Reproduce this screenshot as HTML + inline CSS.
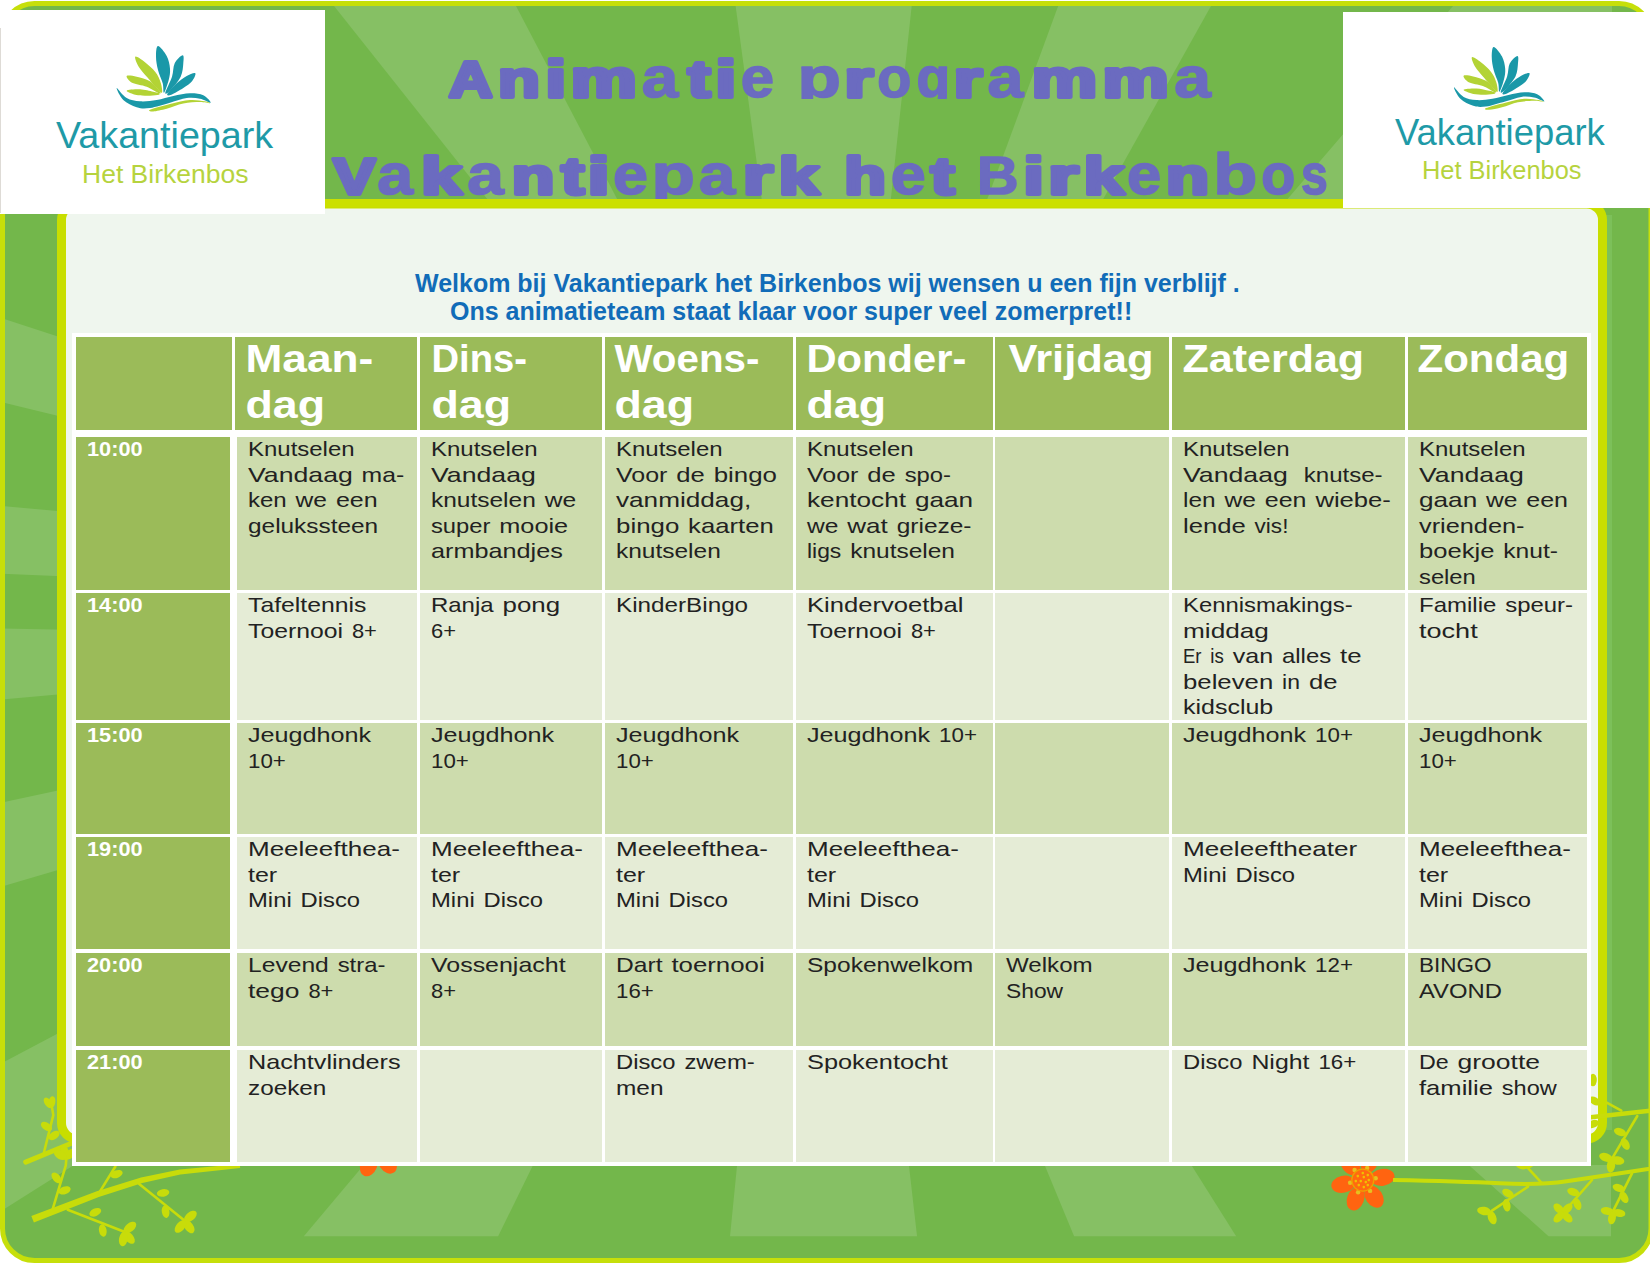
<!DOCTYPE html>
<html><head><meta charset="utf-8">
<style>
html,body{margin:0;padding:0;}
body{width:1650px;height:1275px;position:relative;overflow:hidden;background:#fff;font-family:"Liberation Sans",sans-serif;}
.abs{position:absolute;}
.c{position:absolute;box-sizing:border-box;}
.hd{background:#9bbb59;}
.tm{background:#9bbb59;}
.dk{background:#cddcad;}
.lt{background:#e5ecd6;}
.ht{position:absolute;color:#fff;font-weight:bold;font-size:38.4px;line-height:46px;letter-spacing:1.9px;white-space:nowrap;}
.tt{position:absolute;color:#fff;font-weight:bold;font-size:20.5px;line-height:25.5px;letter-spacing:0.8px;white-space:nowrap;}
.bt{position:absolute;color:#141414;font-size:20.3px;line-height:25.5px;letter-spacing:1.9px;word-spacing:1px;white-space:nowrap;}
.wl{position:absolute;color:#116cb8;font-weight:bold;font-size:25px;line-height:28px;white-space:nowrap;}
</style></head><body>

<svg class="abs" style="left:0;top:0" width="1650" height="1275" viewBox="0 0 1650 1275">
<defs>
<clipPath id="fc"><rect x="2.5" y="3.5" width="1648.5" height="1257" rx="32"/></clipPath>
<clipPath id="rc"><rect x="0" y="0" width="1612" height="1236.5"/></clipPath>
</defs>
<rect x="2.5" y="3.5" width="1648.5" height="1257" rx="32" fill="#73b74b"/>
<g clip-path="url(#fc)"><g clip-path="url(#rc)" fill="#86c064"><polygon points="313.4,-20.0 502.4,-20.0 621.3,207.0 493.6,207.0"/><polygon points="732.1,-20.0 914.5,-20.0 890.0,207.0 762.7,207.0"/><polygon points="1067.7,-20.0 1225.5,-20.0 1098.8,207.0 984.4,207.0"/><polygon points="1475.3,-20.0 1700.0,-20.0 1700.0,207.0 1280.7,207.0"/><polygon points="363.7,1165.0 533.1,1165.0 498.0,1236.5 303.6,1236.5"/><polygon points="737.1,1165.0 908.9,1165.0 917.1,1236.5 730.0,1236.5"/><polygon points="1044.6,1165.0 1191.3,1165.0 1236.3,1236.5 1074.2,1236.5"/><polygon points="1468.7,1165.0 1611.0,1165.0 1611.0,1236.5 1548.8,1236.5"/><polygon points="-10.0,314.3 80.0,343.7 80.0,421.2 -10.0,399.2"/><polygon points="-10.0,504.9 80.0,513.1 80.0,576.9 -10.0,573.4"/><polygon points="-10.0,628.4 80.0,630.0 80.0,692.4 -10.0,700.6"/><polygon points="-10.0,805.2 80.0,785.8 80.0,863.6 -10.0,890.1"/><polygon points="-10.0,1069.3 80.0,1021.7 80.0,1161.2 -10.0,1218.0"/></g></g>
<rect x="2.5" y="3.5" width="1648.5" height="1257" rx="32" fill="none" stroke="#c6df0a" stroke-width="5"/>
<rect x="1606" y="215" width="6" height="915" fill="#7cc05a"/>
<rect x="61.5" y="204" width="1541" height="935" rx="16" fill="#eff6ee" stroke="#c8de00" stroke-width="9"/>
<g><ellipse cx="395.8" cy="1143.2" rx="12" ry="8.5" fill="#ff6410" transform="rotate(-8 395.8 1143.2)"/><circle cx="388.9" cy="1144.2" r="2.2" fill="#e6c020"/><ellipse cx="387.2" cy="1162.6" rx="12" ry="8.5" fill="#ff6410" transform="rotate(56 387.2 1162.6)"/><circle cx="383.3" cy="1156.8" r="2.2" fill="#e6c020"/><ellipse cx="368.8" cy="1164.7" rx="12" ry="8.5" fill="#ff6410" transform="rotate(111 368.8 1164.7)"/><circle cx="371.3" cy="1158.1" r="2.2" fill="#e6c020"/><ellipse cx="356.4" cy="1150.2" rx="12" ry="8.5" fill="#ff6410" transform="rotate(168 356.4 1150.2)"/><circle cx="363.3" cy="1148.7" r="2.2" fill="#e6c020"/><ellipse cx="363.4" cy="1130.5" rx="12" ry="8.5" fill="#ff6410" transform="rotate(231 363.4 1130.5)"/><circle cx="367.8" cy="1135.9" r="2.2" fill="#e6c020"/><ellipse cx="382.8" cy="1127.2" rx="12" ry="8.5" fill="#ff6410" transform="rotate(290 382.8 1127.2)"/><circle cx="380.4" cy="1133.8" r="2.2" fill="#e6c020"/><circle cx="376" cy="1146" r="11" fill="#ff6a10" stroke="#f0a000" stroke-width="1.3"/><circle cx="376" cy="1139" r="1.3" fill="#f0c000"/><circle cx="381" cy="1141" r="1.3" fill="#f0c000"/><circle cx="371" cy="1142" r="1.3" fill="#f0c000"/><circle cx="377" cy="1143" r="1.3" fill="#f0c000"/><circle cx="382" cy="1146" r="1.3" fill="#f0c000"/><circle cx="369" cy="1147" r="1.3" fill="#f0c000"/><circle cx="374" cy="1147" r="1.3" fill="#f0c000"/><circle cx="379" cy="1148" r="1.3" fill="#f0c000"/><circle cx="381" cy="1151" r="1.3" fill="#f0c000"/><circle cx="372" cy="1151" r="1.3" fill="#f0c000"/><circle cx="377" cy="1153" r="1.3" fill="#f0c000"/></g><g><ellipse cx="1382.6" cy="1177.3" rx="12" ry="8.5" fill="#ff6410" transform="rotate(-8 1382.6 1177.3)"/><circle cx="1375.7" cy="1178.3" r="2.2" fill="#e6c020"/><ellipse cx="1374.0" cy="1196.7" rx="12" ry="8.5" fill="#ff6410" transform="rotate(56 1374.0 1196.7)"/><circle cx="1370.1" cy="1190.9" r="2.2" fill="#e6c020"/><ellipse cx="1355.6" cy="1198.8" rx="12" ry="8.5" fill="#ff6410" transform="rotate(111 1355.6 1198.8)"/><circle cx="1358.1" cy="1192.2" r="2.2" fill="#e6c020"/><ellipse cx="1343.2" cy="1184.3" rx="12" ry="8.5" fill="#ff6410" transform="rotate(168 1343.2 1184.3)"/><circle cx="1350.1" cy="1182.8" r="2.2" fill="#e6c020"/><ellipse cx="1350.2" cy="1164.6" rx="12" ry="8.5" fill="#ff6410" transform="rotate(231 1350.2 1164.6)"/><circle cx="1354.6" cy="1170.0" r="2.2" fill="#e6c020"/><ellipse cx="1369.6" cy="1161.3" rx="12" ry="8.5" fill="#ff6410" transform="rotate(290 1369.6 1161.3)"/><circle cx="1367.2" cy="1167.9" r="2.2" fill="#e6c020"/><circle cx="1362.8" cy="1180.1" r="11" fill="#ff6a10" stroke="#f0a000" stroke-width="1.3"/><circle cx="1362.8" cy="1173.1" r="1.3" fill="#f0c000"/><circle cx="1367.8" cy="1175.1" r="1.3" fill="#f0c000"/><circle cx="1357.8" cy="1176.1" r="1.3" fill="#f0c000"/><circle cx="1363.8" cy="1177.1" r="1.3" fill="#f0c000"/><circle cx="1368.8" cy="1180.1" r="1.3" fill="#f0c000"/><circle cx="1355.8" cy="1181.1" r="1.3" fill="#f0c000"/><circle cx="1360.8" cy="1181.1" r="1.3" fill="#f0c000"/><circle cx="1365.8" cy="1182.1" r="1.3" fill="#f0c000"/><circle cx="1367.8" cy="1185.1" r="1.3" fill="#f0c000"/><circle cx="1358.8" cy="1185.1" r="1.3" fill="#f0c000"/><circle cx="1363.8" cy="1187.1" r="1.3" fill="#f0c000"/></g><g fill="#c8dc0a"><polygon points="33.9,1222.5 98.8,1197.0 142.4,1183.0 180.3,1174.4 240.2,1168.0 239.8,1164.0 179.7,1169.6 141.0,1177.6 96.8,1191.2 31.3,1215.9"/><path d="M25.7,1162.1 L71.5,1143.3" fill="none" stroke="#c8dc0a" stroke-width="5" stroke-linecap="round" stroke-linejoin="round"/><path d="M43.9,1152.7 L53.3,1115.1 L51.4,1103.8" fill="none" stroke="#c8dc0a" stroke-width="2.6" stroke-linecap="round" stroke-linejoin="round"/><ellipse cx="48.1" cy="1102.9" rx="6" ry="3.4" transform="rotate(-125 48.1 1102.9)"/><ellipse cx="51.9" cy="1102.1" rx="6" ry="3.4" transform="rotate(-80 51.9 1102.1)"/><ellipse cx="46.5" cy="1126.5" rx="6.3" ry="3.8" transform="rotate(-145 46.5 1126.5)"/><ellipse cx="54.0" cy="1135.5" rx="6.3" ry="3.8" transform="rotate(-35 54.0 1135.5)"/><path d="M52.7,1209.2 L65.8,1165.3 L67.0,1150.0" fill="none" stroke="#c8dc0a" stroke-width="2.6" stroke-linecap="round" stroke-linejoin="round"/><ellipse cx="64.5" cy="1152.1" rx="7" ry="4.2" transform="rotate(-100 64.5 1152.1)"/><ellipse cx="70.1" cy="1154.1" rx="7" ry="4.2" transform="rotate(-40 70.1 1154.1)"/><ellipse cx="60.3" cy="1155.0" rx="7" ry="4.2" transform="rotate(-150 60.3 1155.0)"/><ellipse cx="56.4" cy="1177.8" rx="6.3" ry="3.8" transform="rotate(-130 56.4 1177.8)"/><ellipse cx="64.6" cy="1190.4" rx="6.3" ry="3.8" transform="rotate(-20 64.6 1190.4)"/><path d="M99.1,1192.9 L115.4,1166.5" fill="none" stroke="#c8dc0a" stroke-width="2.6" stroke-linecap="round" stroke-linejoin="round"/><ellipse cx="116.6" cy="1174.1" rx="6.3" ry="3.8" transform="rotate(-20 116.6 1174.1)"/><path d="M67.7,1209.8 L124.2,1231.8" fill="none" stroke="#c8dc0a" stroke-width="2.6" stroke-linecap="round" stroke-linejoin="round"/><ellipse cx="95.3" cy="1212.3" rx="6.3" ry="3.8" transform="rotate(-25 95.3 1212.3)"/><ellipse cx="102.8" cy="1230.5" rx="6.3" ry="3.8" transform="rotate(80 102.8 1230.5)"/><ellipse cx="129.9" cy="1227.5" rx="7.5" ry="4.3" transform="rotate(-40 129.9 1227.5)"/><ellipse cx="129.0" cy="1237.4" rx="7.5" ry="4.3" transform="rotate(50 129.0 1237.4)"/><ellipse cx="123.3" cy="1238.9" rx="7.5" ry="4.3" transform="rotate(100 123.3 1238.9)"/><path d="M139.2,1184.1 L184.4,1220.5" fill="none" stroke="#c8dc0a" stroke-width="2.6" stroke-linecap="round" stroke-linejoin="round"/><ellipse cx="163.1" cy="1192.9" rx="6.3" ry="3.8" transform="rotate(-10 163.1 1192.9)"/><ellipse cx="165.6" cy="1211.7" rx="6.3" ry="3.8" transform="rotate(80 165.6 1211.7)"/><ellipse cx="190.4" cy="1216.5" rx="7.5" ry="4.3" transform="rotate(-40 190.4 1216.5)"/><ellipse cx="189.0" cy="1226.7" rx="7.5" ry="4.3" transform="rotate(55 189.0 1226.7)"/><ellipse cx="180.5" cy="1226.4" rx="7.5" ry="4.3" transform="rotate(130 180.5 1226.4)"/><path d="M1590.7,1117.3 L1650.0,1110.7" fill="none" stroke="#c8dc0a" stroke-width="4.5" stroke-linecap="round" stroke-linejoin="round"/><path d="M1621.3,1110.7 L1606.7,1102.7" fill="none" stroke="#c8dc0a" stroke-width="2.6" stroke-linecap="round" stroke-linejoin="round"/><path d="M1637.3,1116.0 L1612.0,1158.7" fill="none" stroke="#c8dc0a" stroke-width="2.6" stroke-linecap="round" stroke-linejoin="round"/><ellipse cx="1605.9" cy="1157.4" rx="7" ry="4.2" transform="rotate(-160 1605.9 1157.4)"/><ellipse cx="1617.4" cy="1160.5" rx="7" ry="4.2" transform="rotate(10 1617.4 1160.5)"/><ellipse cx="1611.0" cy="1165.5" rx="7" ry="4.2" transform="rotate(95 1611.0 1165.5)"/><ellipse cx="1620.0" cy="1132.0" rx="6.3" ry="3.8" transform="rotate(-160 1620.0 1132.0)"/><ellipse cx="1625.3" cy="1144.0" rx="6.3" ry="3.8" transform="rotate(60 1625.3 1144.0)"/><path d="M1393.0,1180.0 Q1460.0,1181.3 1500.0,1183.3 Q1540.0,1185.3 1566.7,1181.3 Q1593.3,1177.3 1621.7,1173.0 L1650.0,1168.7" fill="none" stroke="#c8dc0a" stroke-width="4" stroke-linecap="butt"/><path d="M1541.3,1182.7 L1526.7,1166.7" fill="none" stroke="#c8dc0a" stroke-width="2.6" stroke-linecap="round" stroke-linejoin="round"/><ellipse cx="1521.3" cy="1165.3" rx="6.3" ry="3.8" transform="rotate(-160 1521.3 1165.3)"/><ellipse cx="1529.8" cy="1163.8" rx="6.3" ry="3.8" transform="rotate(-40 1529.8 1163.8)"/><path d="M1528.0,1186.7 L1492.0,1210.7" fill="none" stroke="#c8dc0a" stroke-width="2.6" stroke-linecap="round" stroke-linejoin="round"/><ellipse cx="1508.0" cy="1193.3" rx="6.3" ry="3.8" transform="rotate(-150 1508.0 1193.3)"/><ellipse cx="1506.7" cy="1205.3" rx="6.3" ry="3.8" transform="rotate(80 1506.7 1205.3)"/><ellipse cx="1484.1" cy="1211.0" rx="7" ry="4.2" transform="rotate(-170 1484.1 1211.0)"/><ellipse cx="1492.1" cy="1217.6" rx="7" ry="4.2" transform="rotate(70 1492.1 1217.6)"/><path d="M1592.0,1180.0 L1562.7,1213.3" fill="none" stroke="#c8dc0a" stroke-width="2.6" stroke-linecap="round" stroke-linejoin="round"/><ellipse cx="1573.3" cy="1192.0" rx="6.3" ry="3.8" transform="rotate(-160 1573.3 1192.0)"/><ellipse cx="1577.3" cy="1204.0" rx="6.3" ry="3.8" transform="rotate(70 1577.3 1204.0)"/><ellipse cx="1558.8" cy="1208.8" rx="6.5" ry="3.9" transform="rotate(-135 1558.8 1208.8)"/><ellipse cx="1567.2" cy="1208.8" rx="6.5" ry="3.9" transform="rotate(-45 1567.2 1208.8)"/><ellipse cx="1567.2" cy="1217.2" rx="6.5" ry="3.9" transform="rotate(45 1567.2 1217.2)"/><ellipse cx="1558.8" cy="1217.2" rx="6.5" ry="3.9" transform="rotate(135 1558.8 1217.2)"/><path d="M1632.0,1173.3 L1613.3,1210.7" fill="none" stroke="#c8dc0a" stroke-width="2.6" stroke-linecap="round" stroke-linejoin="round"/><ellipse cx="1618.7" cy="1188.0" rx="6.3" ry="3.8" transform="rotate(-160 1618.7 1188.0)"/><ellipse cx="1624.0" cy="1197.3" rx="6.3" ry="3.8" transform="rotate(60 1624.0 1197.3)"/><ellipse cx="1607.1" cy="1211.0" rx="6.5" ry="3.9" transform="rotate(-170 1607.1 1211.0)"/><ellipse cx="1618.9" cy="1213.0" rx="6.5" ry="3.9" transform="rotate(10 1618.9 1213.0)"/><ellipse cx="1612.0" cy="1217.9" rx="6.5" ry="3.9" transform="rotate(100 1612.0 1217.9)"/><ellipse cx="1593.0" cy="1080.0" rx="6.3" ry="3.8" transform="rotate(-90 1593.0 1080.0)"/><ellipse cx="1594.7" cy="1101.0" rx="6.3" ry="3.8" transform="rotate(-150 1594.7 1101.0)"/><ellipse cx="1593.0" cy="1124.0" rx="6.3" ry="3.8" transform="rotate(160 1593.0 1124.0)"/></g>
</svg>

<div class="abs" style="left:325px;top:199px;width:1020px;height:8px;background:#cbe000"></div>
<div class="abs" style="left:0;top:10px;width:325px;height:204px;background:#fff"></div>
<div class="abs" style="left:1343px;top:12px;width:307px;height:196px;background:#fff"></div>
<div class="abs" style="left:0;top:28px;width:1px;height:185px;background:#dedbd6"></div>
<svg class="abs" style="left:0;top:0" width="1650" height="220" viewBox="0 0 1650 220">
<defs><g id="lotus"><path fill="#1a98a8" d="M48.0,6.0 C46.2,6.1 46.0,12.7 46.0,16.7 C46.0,20.7 46.9,25.6 48.0,30.0 C49.1,34.4 51.7,39.6 52.7,43.3 C53.7,47.1 53.0,53.2 54.0,52.7 C55.0,52.1 57.7,44.0 58.7,40.0 C59.7,36.0 60.3,32.7 60.0,28.7 C59.7,24.7 58.7,19.8 56.7,16.0 C54.7,12.2 49.8,5.9 48.0,6.0Z"/><path fill="#1a98a8" d="M72.7,15.3 C71.2,15.3 66.4,19.8 64.7,23.3 C62.9,26.9 63.6,31.8 62.0,36.7 C60.4,41.6 55.7,50.3 55.3,52.7 C55.0,55.0 57.4,53.3 60.0,50.7 C62.6,48.0 68.4,41.2 70.7,36.7 C72.9,32.1 73.0,26.9 73.3,23.3 C73.7,19.8 74.1,15.3 72.7,15.3Z"/><path fill="#1a98a8" d="M85.3,33.3 C84.4,32.4 79.8,34.3 76.7,36.0 C73.6,37.7 69.9,40.3 66.7,43.3 C63.4,46.3 58.2,52.1 57.3,54.0 C56.4,55.9 58.7,55.7 61.3,54.7 C64.0,53.7 69.9,50.2 73.3,48.0 C76.8,45.8 80.0,43.8 82.0,41.3 C84.0,38.9 86.2,34.2 85.3,33.3Z"/><path fill="#b3d335" d="M25.3,16.7 C24.3,17.4 26.7,23.2 28.7,26.7 C30.7,30.1 34.3,33.8 37.3,37.3 C40.3,40.9 44.2,45.4 46.7,48.0 C49.1,50.6 51.3,53.6 52.0,52.7 C52.7,51.8 51.8,46.1 50.7,42.7 C49.6,39.2 48.0,35.4 45.3,32.0 C42.7,28.6 38.0,24.6 34.7,22.0 C31.3,19.4 26.3,15.9 25.3,16.7Z"/><path fill="#b3d335" d="M16.7,36.0 C15.9,37.0 18.7,40.9 22.0,42.7 C25.3,44.4 32.1,44.9 36.7,46.7 C41.2,48.4 47.2,52.7 49.3,53.3 C51.4,54.0 50.9,52.7 49.3,50.7 C47.8,48.7 43.8,43.7 40.0,41.3 C36.2,39.0 30.6,37.6 26.7,36.7 C22.8,35.8 17.4,35.0 16.7,36.0Z"/><path fill="#b3d335" d="M16.7,50.7 C16.1,51.6 22.8,54.2 26.7,55.0 C30.6,55.8 36.3,55.7 40.0,55.7 C43.7,55.6 47.6,55.1 49.0,54.7 C50.4,54.2 49.6,53.5 48.7,53.0 C47.7,52.5 46.4,52.3 43.3,51.7 C40.2,51.1 34.4,49.5 30.0,49.3 C25.6,49.2 17.2,49.7 16.7,50.7Z"/><path fill="#1a98a8" d="M6.7,48.0 C7.2,47.7 12.8,55.8 16.7,58.0 C20.6,60.2 25.0,61.0 30.0,61.3 C35.0,61.7 41.1,60.9 46.7,60.0 C52.2,59.1 57.8,57.1 63.3,56.0 C68.9,54.9 75.0,53.4 80.0,53.3 C85.0,53.2 89.9,53.8 93.3,55.3 C96.8,56.9 101.2,62.1 100.7,62.7 C100.1,63.2 94.0,59.4 90.0,58.7 C86.0,57.9 81.7,57.3 76.7,58.0 C71.7,58.7 66.1,61.0 60.0,62.7 C53.9,64.3 45.6,67.2 40.0,68.0 C34.4,68.8 31.1,68.7 26.7,67.3 C22.2,66.0 16.7,63.2 13.3,60.0 C10.0,56.8 6.1,48.3 6.7,48.0Z"/><path fill="#b3d335" d="M40.0,69.7 C42.8,68.4 53.3,65.6 60.0,64.0 C66.7,62.4 74.2,60.4 80.0,60.0 C85.8,59.6 91.3,60.8 94.7,61.3 C98.0,61.9 100.8,63.2 100.0,63.3 C99.2,63.5 94.4,62.1 90.0,62.1 C85.6,62.2 78.9,62.4 73.3,63.5 C67.8,64.6 61.7,67.5 56.7,68.8 C51.7,70.1 46.1,71.3 43.3,71.5 C40.6,71.6 37.2,70.9 40.0,69.7Z"/></g></defs>
<use href="#lotus" x="110" y="40"/>
<g transform="translate(1447.6,41.2) scale(0.96)"><use href="#lotus"/></g>
<g font-family="Liberation Sans">
<text x="56" y="148" font-size="37.7" fill="#1e9aa7">Vakantiepark</text>
<text x="82" y="183" font-size="26.5" fill="#b6d33e">Het Birkenbos</text>
<text x="1395" y="145" font-size="36.4" fill="#1e9aa7">Vakantiepark</text>
<text x="1422" y="179" font-size="25.4" fill="#b6d33e">Het Birkenbos</text>
</g></svg>
<svg class="abs" style="left:0;top:0" width="1650" height="210">
<defs><clipPath id="tc1"><rect x="300" y="40" width="1000" height="59"/></clipPath><clipPath id="tc2"><rect x="300" y="140" width="1050" height="59"/></clipPath></defs>
<g fill="#6b6bc0" stroke="#6b6bc0" stroke-width="3" stroke-linejoin="round" font-family="Liberation Sans" font-weight="bold"><g clip-path="url(#tc1)"><text transform="translate(448.79,97) scale(1.205,1)" font-size="50.3" stroke-width="4.0">A</text><text transform="translate(498.08,97) scale(1.318,1)" font-size="52.0" stroke-width="4.0">n</text><text transform="translate(545.41,97) scale(1.429,1)" font-size="52.0" stroke-width="4.0">i</text><text transform="translate(570.81,97) scale(1.427,1)" font-size="52.0" stroke-width="4.0">m</text><text transform="translate(641.78,97) scale(1.159,1)" font-size="56.6" stroke-width="1.6">a</text><text transform="translate(687.67,97) scale(1.314,1)" font-size="52.0" stroke-width="4.0">t</text><text transform="translate(715.51,97) scale(1.429,1)" font-size="52.0" stroke-width="4.0">i</text><text transform="translate(740.66,97) scale(1.056,1)" font-size="56.6" stroke-width="1.6">e</text><text transform="translate(797.42,97) scale(1.254,1)" font-size="56.6" stroke-width="1.6">p</text><text transform="translate(844.44,97) scale(1.416,1)" font-size="52.0" stroke-width="4.0">r</text><text transform="translate(877.32,97) scale(0.984,1)" font-size="56.6" stroke-width="1.6">o</text><text transform="translate(916.54,97) scale(0.972,1)" font-size="56.6" stroke-width="1.6">g</text><text transform="translate(953.86,97) scale(1.410,1)" font-size="52.0" stroke-width="4.0">r</text><text transform="translate(987.61,97) scale(1.139,1)" font-size="56.6" stroke-width="1.6">a</text><text transform="translate(1031.85,97) scale(1.414,1)" font-size="52.0" stroke-width="4.0">m</text><text transform="translate(1102.39,97) scale(1.432,1)" font-size="52.0" stroke-width="4.0">m</text><text transform="translate(1174.17,97) scale(1.162,1)" font-size="56.6" stroke-width="1.6">a</text></g><g clip-path="url(#tc2)"><text transform="translate(333.27,194) scale(1.256,1)" font-size="50.3" stroke-width="4.0">V</text><text transform="translate(377.21,194) scale(1.139,1)" font-size="56.6" stroke-width="1.6">a</text><text transform="translate(421.23,194) scale(1.396,1)" font-size="52.0" stroke-width="4.0">k</text><text transform="translate(467.17,194) scale(1.162,1)" font-size="56.6" stroke-width="1.6">a</text><text transform="translate(511.70,194) scale(1.341,1)" font-size="52.0" stroke-width="4.0">n</text><text transform="translate(561.16,194) scale(1.327,1)" font-size="52.0" stroke-width="4.0">t</text><text transform="translate(587.85,194) scale(1.499,1)" font-size="52.0" stroke-width="4.0">i</text><text transform="translate(613.04,194) scale(1.111,1)" font-size="56.6" stroke-width="1.6">e</text><text transform="translate(651.42,194) scale(1.254,1)" font-size="56.6" stroke-width="1.6">p</text><text transform="translate(698.87,194) scale(1.162,1)" font-size="56.6" stroke-width="1.6">a</text><text transform="translate(742.93,194) scale(1.479,1)" font-size="52.0" stroke-width="4.0">r</text><text transform="translate(778.64,194) scale(1.392,1)" font-size="52.0" stroke-width="4.0">k</text><text transform="translate(844.23,194) scale(1.312,1)" font-size="52.0" stroke-width="4.0">h</text><text transform="translate(890.64,194) scale(1.111,1)" font-size="56.6" stroke-width="1.6">e</text><text transform="translate(930.83,194) scale(1.370,1)" font-size="52.0" stroke-width="4.0">t</text><text transform="translate(976.95,194) scale(1.073,1)" font-size="53.6" stroke-width="1.6">B</text><text transform="translate(1023.61,194) scale(1.401,1)" font-size="52.0" stroke-width="4.0">i</text><text transform="translate(1048.17,194) scale(1.497,1)" font-size="52.0" stroke-width="4.0">r</text><text transform="translate(1083.64,194) scale(1.392,1)" font-size="52.0" stroke-width="4.0">k</text><text transform="translate(1127.10,194) scale(1.086,1)" font-size="56.6" stroke-width="1.6">e</text><text transform="translate(1166.06,194) scale(1.353,1)" font-size="52.0" stroke-width="4.0">n</text><text transform="translate(1213.34,194) scale(1.275,1)" font-size="56.6" stroke-width="1.6">b</text><text transform="translate(1261.32,194) scale(0.984,1)" font-size="56.6" stroke-width="1.6">o</text><text transform="translate(1301.11,194) scale(0.850,1)" font-size="56.6" stroke-width="1.6">s</text></g></g></svg>
<div class="wl" style="left:415px;top:269px">Welkom bij Vakantiepark het Birkenbos wij wensen u een fijn verblijf .</div>
<div class="wl" style="left:450px;top:297px">Ons animatieteam staat klaar voor super veel zomerpret!!</div>
<div class="abs" style="left:72px;top:333px;width:1519px;height:833px;background:#fff"></div>
<div class="c hd" style="left:76px;top:337px;width:156px;height:93px"></div>
<div class="c hd" style="left:235px;top:337px;width:182px;height:93px"></div>
<div class="c hd" style="left:420px;top:337px;width:182px;height:93px"></div>
<div class="c hd" style="left:605px;top:337px;width:188px;height:93px"></div>
<div class="c hd" style="left:796px;top:337px;width:197px;height:93px"></div>
<div class="c hd" style="left:995px;top:337px;width:174px;height:93px"></div>
<div class="c hd" style="left:1172px;top:337px;width:233px;height:93px"></div>
<div class="c hd" style="left:1408px;top:337px;width:179px;height:93px"></div>
<div class="c tm" style="left:76px;top:437px;width:154px;height:153px"></div>
<div class="c dk" style="left:237px;top:437px;width:180px;height:153px"></div>
<div class="c dk" style="left:420px;top:437px;width:182px;height:153px"></div>
<div class="c dk" style="left:605px;top:437px;width:188px;height:153px"></div>
<div class="c dk" style="left:796px;top:437px;width:197px;height:153px"></div>
<div class="c dk" style="left:995px;top:437px;width:174px;height:153px"></div>
<div class="c dk" style="left:1172px;top:437px;width:233px;height:153px"></div>
<div class="c dk" style="left:1408px;top:437px;width:179px;height:153px"></div>
<div class="c tm" style="left:76px;top:593px;width:154px;height:127px"></div>
<div class="c lt" style="left:237px;top:593px;width:180px;height:127px"></div>
<div class="c lt" style="left:420px;top:593px;width:182px;height:127px"></div>
<div class="c lt" style="left:605px;top:593px;width:188px;height:127px"></div>
<div class="c lt" style="left:796px;top:593px;width:197px;height:127px"></div>
<div class="c lt" style="left:995px;top:593px;width:174px;height:127px"></div>
<div class="c lt" style="left:1172px;top:593px;width:233px;height:127px"></div>
<div class="c lt" style="left:1408px;top:593px;width:179px;height:127px"></div>
<div class="c tm" style="left:76px;top:723px;width:154px;height:111px"></div>
<div class="c dk" style="left:237px;top:723px;width:180px;height:111px"></div>
<div class="c dk" style="left:420px;top:723px;width:182px;height:111px"></div>
<div class="c dk" style="left:605px;top:723px;width:188px;height:111px"></div>
<div class="c dk" style="left:796px;top:723px;width:197px;height:111px"></div>
<div class="c dk" style="left:995px;top:723px;width:174px;height:111px"></div>
<div class="c dk" style="left:1172px;top:723px;width:233px;height:111px"></div>
<div class="c dk" style="left:1408px;top:723px;width:179px;height:111px"></div>
<div class="c tm" style="left:76px;top:837px;width:154px;height:112px"></div>
<div class="c lt" style="left:237px;top:837px;width:180px;height:112px"></div>
<div class="c lt" style="left:420px;top:837px;width:182px;height:112px"></div>
<div class="c lt" style="left:605px;top:837px;width:188px;height:112px"></div>
<div class="c lt" style="left:796px;top:837px;width:197px;height:112px"></div>
<div class="c lt" style="left:995px;top:837px;width:174px;height:112px"></div>
<div class="c lt" style="left:1172px;top:837px;width:233px;height:112px"></div>
<div class="c lt" style="left:1408px;top:837px;width:179px;height:112px"></div>
<div class="c tm" style="left:76px;top:953px;width:154px;height:93px"></div>
<div class="c dk" style="left:237px;top:953px;width:180px;height:93px"></div>
<div class="c dk" style="left:420px;top:953px;width:182px;height:93px"></div>
<div class="c dk" style="left:605px;top:953px;width:188px;height:93px"></div>
<div class="c dk" style="left:796px;top:953px;width:197px;height:93px"></div>
<div class="c dk" style="left:995px;top:953px;width:174px;height:93px"></div>
<div class="c dk" style="left:1172px;top:953px;width:233px;height:93px"></div>
<div class="c dk" style="left:1408px;top:953px;width:179px;height:93px"></div>
<div class="c tm" style="left:76px;top:1050px;width:154px;height:112px"></div>
<div class="c lt" style="left:237px;top:1050px;width:180px;height:112px"></div>
<div class="c lt" style="left:420px;top:1050px;width:182px;height:112px"></div>
<div class="c lt" style="left:605px;top:1050px;width:188px;height:112px"></div>
<div class="c lt" style="left:796px;top:1050px;width:197px;height:112px"></div>
<div class="c lt" style="left:995px;top:1050px;width:174px;height:112px"></div>
<div class="c lt" style="left:1172px;top:1050px;width:233px;height:112px"></div>
<div class="c lt" style="left:1408px;top:1050px;width:179px;height:112px"></div>
<svg class="abs" style="left:0;top:0" width="1650" height="1275">
<g font-family="Liberation Sans" font-weight="bold" font-size="38.5" fill="#ffffff">
<text x="245.5" y="372.0" textLength="127.8" lengthAdjust="spacingAndGlyphs">Maan-</text>
<text x="245.5" y="418.0" textLength="79.6" lengthAdjust="spacingAndGlyphs">dag</text>
<text x="431.5" y="372.0" textLength="95.5" lengthAdjust="spacingAndGlyphs">Dins-</text>
<text x="431.5" y="418.0" textLength="79.6" lengthAdjust="spacingAndGlyphs">dag</text>
<text x="614.5" y="372.0" textLength="144.9" lengthAdjust="spacingAndGlyphs">Woens-</text>
<text x="614.5" y="418.0" textLength="79.6" lengthAdjust="spacingAndGlyphs">dag</text>
<text x="806.5" y="372.0" textLength="159.8" lengthAdjust="spacingAndGlyphs">Donder-</text>
<text x="806.5" y="418.0" textLength="79.6" lengthAdjust="spacingAndGlyphs">dag</text>
<text x="1008.5" y="372.0" textLength="145.2" lengthAdjust="spacingAndGlyphs">Vrijdag</text>
<text x="1182.5" y="372.0" textLength="181.6" lengthAdjust="spacingAndGlyphs">Zaterdag</text>
<text x="1417.5" y="372.0" textLength="151.8" lengthAdjust="spacingAndGlyphs">Zondag</text>
</g><g font-family="Liberation Sans" font-weight="bold" font-size="20" fill="#ffffff">
<text x="87.0" y="456.0" textLength="55.6" lengthAdjust="spacingAndGlyphs">10:00</text>
<text x="87.0" y="612.0" textLength="55.6" lengthAdjust="spacingAndGlyphs">14:00</text>
<text x="87.0" y="742.0" textLength="55.6" lengthAdjust="spacingAndGlyphs">15:00</text>
<text x="87.0" y="856.0" textLength="55.6" lengthAdjust="spacingAndGlyphs">19:00</text>
<text x="87.0" y="972.0" textLength="55.6" lengthAdjust="spacingAndGlyphs">20:00</text>
<text x="87.0" y="1069.0" textLength="55.6" lengthAdjust="spacingAndGlyphs">21:00</text>
</g><g font-family="Liberation Sans" font-size="20.3" fill="#222222">
<text x="248.0" y="456.0" textLength="106.6" lengthAdjust="spacingAndGlyphs">Knutselen</text>
<text x="248.0" y="481.6" textLength="104.8" lengthAdjust="spacingAndGlyphs">Vandaag</text><text x="361.6" y="481.6" textLength="42.6" lengthAdjust="spacingAndGlyphs">ma-</text>
<text x="248.0" y="507.1" textLength="38.7" lengthAdjust="spacingAndGlyphs">ken</text><text x="295.6" y="507.1" textLength="31.4" lengthAdjust="spacingAndGlyphs">we</text><text x="335.9" y="507.1" textLength="41.7" lengthAdjust="spacingAndGlyphs">een</text>
<text x="248.0" y="532.6" textLength="130.2" lengthAdjust="spacingAndGlyphs">gelukssteen</text>
<text x="431.0" y="456.0" textLength="106.6" lengthAdjust="spacingAndGlyphs">Knutselen</text>
<text x="431.0" y="481.6" textLength="104.8" lengthAdjust="spacingAndGlyphs">Vandaag</text>
<text x="431.0" y="507.1" textLength="104.8" lengthAdjust="spacingAndGlyphs">knutselen</text><text x="544.7" y="507.1" textLength="31.4" lengthAdjust="spacingAndGlyphs">we</text>
<text x="431.0" y="532.6" textLength="59.4" lengthAdjust="spacingAndGlyphs">super</text><text x="499.3" y="532.6" textLength="68.9" lengthAdjust="spacingAndGlyphs">mooie</text>
<text x="431.0" y="558.2" textLength="131.9" lengthAdjust="spacingAndGlyphs">armbandjes</text>
<text x="616.0" y="456.0" textLength="106.6" lengthAdjust="spacingAndGlyphs">Knutselen</text>
<text x="616.0" y="481.6" textLength="51.4" lengthAdjust="spacingAndGlyphs">Voor</text><text x="676.3" y="481.6" textLength="28.5" lengthAdjust="spacingAndGlyphs">de</text><text x="713.7" y="481.6" textLength="63.3" lengthAdjust="spacingAndGlyphs">bingo</text>
<text x="616.0" y="507.1" textLength="135.2" lengthAdjust="spacingAndGlyphs">vanmiddag,</text>
<text x="616.0" y="532.6" textLength="63.3" lengthAdjust="spacingAndGlyphs">bingo</text><text x="688.1" y="532.6" textLength="85.6" lengthAdjust="spacingAndGlyphs">kaarten</text>
<text x="616.0" y="558.2" textLength="104.8" lengthAdjust="spacingAndGlyphs">knutselen</text>
<text x="807.0" y="456.0" textLength="106.6" lengthAdjust="spacingAndGlyphs">Knutselen</text>
<text x="807.0" y="481.6" textLength="51.4" lengthAdjust="spacingAndGlyphs">Voor</text><text x="867.3" y="481.6" textLength="28.5" lengthAdjust="spacingAndGlyphs">de</text><text x="904.7" y="481.6" textLength="46.3" lengthAdjust="spacingAndGlyphs">spo-</text>
<text x="807.0" y="507.1" textLength="99.0" lengthAdjust="spacingAndGlyphs">kentocht</text><text x="914.9" y="507.1" textLength="58.2" lengthAdjust="spacingAndGlyphs">gaan</text>
<text x="807.0" y="532.6" textLength="31.4" lengthAdjust="spacingAndGlyphs">we</text><text x="847.3" y="532.6" textLength="40.5" lengthAdjust="spacingAndGlyphs">wat</text><text x="896.7" y="532.6" textLength="74.8" lengthAdjust="spacingAndGlyphs">grieze-</text>
<text x="807.0" y="558.2" textLength="34.3" lengthAdjust="spacingAndGlyphs">ligs</text><text x="850.2" y="558.2" textLength="104.8" lengthAdjust="spacingAndGlyphs">knutselen</text>
<text x="1183.0" y="456.0" textLength="106.6" lengthAdjust="spacingAndGlyphs">Knutselen</text>
<text x="1183.0" y="481.6" textLength="104.8" lengthAdjust="spacingAndGlyphs">Vandaag</text><text x="1303.8" y="481.6" textLength="78.8" lengthAdjust="spacingAndGlyphs">knutse-</text>
<text x="1183.0" y="507.1" textLength="32.6" lengthAdjust="spacingAndGlyphs">len</text><text x="1224.5" y="507.1" textLength="31.4" lengthAdjust="spacingAndGlyphs">we</text><text x="1264.8" y="507.1" textLength="41.7" lengthAdjust="spacingAndGlyphs">een</text><text x="1315.4" y="507.1" textLength="75.5" lengthAdjust="spacingAndGlyphs">wiebe-</text>
<text x="1183.0" y="532.6" textLength="62.8" lengthAdjust="spacingAndGlyphs">lende</text><text x="1254.6" y="532.6" textLength="33.8" lengthAdjust="spacingAndGlyphs">vis!</text>
<text x="1419.0" y="456.0" textLength="106.6" lengthAdjust="spacingAndGlyphs">Knutselen</text>
<text x="1419.0" y="481.6" textLength="104.8" lengthAdjust="spacingAndGlyphs">Vandaag</text>
<text x="1419.0" y="507.1" textLength="58.2" lengthAdjust="spacingAndGlyphs">gaan</text><text x="1486.1" y="507.1" textLength="31.4" lengthAdjust="spacingAndGlyphs">we</text><text x="1526.3" y="507.1" textLength="41.7" lengthAdjust="spacingAndGlyphs">een</text>
<text x="1419.0" y="532.6" textLength="105.5" lengthAdjust="spacingAndGlyphs">vrienden-</text>
<text x="1419.0" y="558.2" textLength="75.4" lengthAdjust="spacingAndGlyphs">boekje</text><text x="1503.3" y="558.2" textLength="54.7" lengthAdjust="spacingAndGlyphs">knut-</text>
<text x="1419.0" y="583.8" textLength="56.8" lengthAdjust="spacingAndGlyphs">selen</text>
<text x="248.0" y="612.0" textLength="118.4" lengthAdjust="spacingAndGlyphs">Tafeltennis</text>
<text x="248.0" y="637.5" textLength="95.0" lengthAdjust="spacingAndGlyphs">Toernooi</text><text x="351.9" y="637.5" textLength="25.0" lengthAdjust="spacingAndGlyphs">8+</text>
<text x="431.0" y="612.0" textLength="62.6" lengthAdjust="spacingAndGlyphs">Ranja</text><text x="502.5" y="612.0" textLength="57.6" lengthAdjust="spacingAndGlyphs">pong</text>
<text x="431.0" y="637.5" textLength="25.0" lengthAdjust="spacingAndGlyphs">6+</text>
<text x="616.0" y="612.0" textLength="132.1" lengthAdjust="spacingAndGlyphs">KinderBingo</text>
<text x="807.0" y="612.0" textLength="156.5" lengthAdjust="spacingAndGlyphs">Kindervoetbal</text>
<text x="807.0" y="637.5" textLength="95.0" lengthAdjust="spacingAndGlyphs">Toernooi</text><text x="910.9" y="637.5" textLength="25.0" lengthAdjust="spacingAndGlyphs">8+</text>
<text x="1183.0" y="612.0" textLength="169.7" lengthAdjust="spacingAndGlyphs">Kennismakings-</text>
<text x="1183.0" y="637.5" textLength="85.9" lengthAdjust="spacingAndGlyphs">middag</text>
<text x="1183.0" y="663.1" textLength="18.5" lengthAdjust="spacingAndGlyphs">Er</text><text x="1210.3" y="663.1" textLength="13.5" lengthAdjust="spacingAndGlyphs">is</text><text x="1232.7" y="663.1" textLength="40.4" lengthAdjust="spacingAndGlyphs">van</text><text x="1282.0" y="663.1" textLength="49.2" lengthAdjust="spacingAndGlyphs">alles</text><text x="1340.1" y="663.1" textLength="21.5" lengthAdjust="spacingAndGlyphs">te</text>
<text x="1183.0" y="688.6" textLength="90.2" lengthAdjust="spacingAndGlyphs">beleven</text><text x="1282.1" y="688.6" textLength="17.9" lengthAdjust="spacingAndGlyphs">in</text><text x="1308.9" y="688.6" textLength="28.5" lengthAdjust="spacingAndGlyphs">de</text>
<text x="1183.0" y="714.2" textLength="90.2" lengthAdjust="spacingAndGlyphs">kidsclub</text>
<text x="1419.0" y="612.0" textLength="77.4" lengthAdjust="spacingAndGlyphs">Familie</text><text x="1505.2" y="612.0" textLength="67.8" lengthAdjust="spacingAndGlyphs">speur-</text>
<text x="1419.0" y="637.5" textLength="58.7" lengthAdjust="spacingAndGlyphs">tocht</text>
<text x="248.0" y="742.0" textLength="123.2" lengthAdjust="spacingAndGlyphs">Jeugdhonk</text>
<text x="248.0" y="767.5" textLength="37.8" lengthAdjust="spacingAndGlyphs">10+</text>
<text x="431.0" y="742.0" textLength="123.2" lengthAdjust="spacingAndGlyphs">Jeugdhonk</text>
<text x="431.0" y="767.5" textLength="37.8" lengthAdjust="spacingAndGlyphs">10+</text>
<text x="616.0" y="742.0" textLength="123.2" lengthAdjust="spacingAndGlyphs">Jeugdhonk</text>
<text x="616.0" y="767.5" textLength="37.8" lengthAdjust="spacingAndGlyphs">10+</text>
<text x="807.0" y="742.0" textLength="123.2" lengthAdjust="spacingAndGlyphs">Jeugdhonk</text><text x="939.1" y="742.0" textLength="37.8" lengthAdjust="spacingAndGlyphs">10+</text>
<text x="1183.0" y="742.0" textLength="123.2" lengthAdjust="spacingAndGlyphs">Jeugdhonk</text><text x="1315.1" y="742.0" textLength="37.8" lengthAdjust="spacingAndGlyphs">10+</text>
<text x="1419.0" y="742.0" textLength="123.2" lengthAdjust="spacingAndGlyphs">Jeugdhonk</text>
<text x="1419.0" y="767.5" textLength="37.8" lengthAdjust="spacingAndGlyphs">10+</text>
<text x="248.0" y="856.0" textLength="151.8" lengthAdjust="spacingAndGlyphs">Meeleefthea-</text>
<text x="248.0" y="881.5" textLength="29.2" lengthAdjust="spacingAndGlyphs">ter</text>
<text x="248.0" y="907.1" textLength="43.7" lengthAdjust="spacingAndGlyphs">Mini</text><text x="300.6" y="907.1" textLength="59.5" lengthAdjust="spacingAndGlyphs">Disco</text>
<text x="431.0" y="856.0" textLength="151.8" lengthAdjust="spacingAndGlyphs">Meeleefthea-</text>
<text x="431.0" y="881.5" textLength="29.2" lengthAdjust="spacingAndGlyphs">ter</text>
<text x="431.0" y="907.1" textLength="43.7" lengthAdjust="spacingAndGlyphs">Mini</text><text x="483.6" y="907.1" textLength="59.5" lengthAdjust="spacingAndGlyphs">Disco</text>
<text x="616.0" y="856.0" textLength="151.8" lengthAdjust="spacingAndGlyphs">Meeleefthea-</text>
<text x="616.0" y="881.5" textLength="29.2" lengthAdjust="spacingAndGlyphs">ter</text>
<text x="616.0" y="907.1" textLength="43.7" lengthAdjust="spacingAndGlyphs">Mini</text><text x="668.6" y="907.1" textLength="59.5" lengthAdjust="spacingAndGlyphs">Disco</text>
<text x="807.0" y="856.0" textLength="151.8" lengthAdjust="spacingAndGlyphs">Meeleefthea-</text>
<text x="807.0" y="881.5" textLength="29.2" lengthAdjust="spacingAndGlyphs">ter</text>
<text x="807.0" y="907.1" textLength="43.7" lengthAdjust="spacingAndGlyphs">Mini</text><text x="859.6" y="907.1" textLength="59.5" lengthAdjust="spacingAndGlyphs">Disco</text>
<text x="1183.0" y="856.0" textLength="174.3" lengthAdjust="spacingAndGlyphs">Meeleeftheater</text>
<text x="1183.0" y="881.5" textLength="43.7" lengthAdjust="spacingAndGlyphs">Mini</text><text x="1235.6" y="881.5" textLength="59.5" lengthAdjust="spacingAndGlyphs">Disco</text>
<text x="1419.0" y="856.0" textLength="151.8" lengthAdjust="spacingAndGlyphs">Meeleefthea-</text>
<text x="1419.0" y="881.5" textLength="29.2" lengthAdjust="spacingAndGlyphs">ter</text>
<text x="1419.0" y="907.1" textLength="43.7" lengthAdjust="spacingAndGlyphs">Mini</text><text x="1471.6" y="907.1" textLength="59.5" lengthAdjust="spacingAndGlyphs">Disco</text>
<text x="248.0" y="972.0" textLength="80.8" lengthAdjust="spacingAndGlyphs">Levend</text><text x="337.7" y="972.0" textLength="47.7" lengthAdjust="spacingAndGlyphs">stra-</text>
<text x="248.0" y="997.5" textLength="51.5" lengthAdjust="spacingAndGlyphs">tego</text><text x="308.4" y="997.5" textLength="25.0" lengthAdjust="spacingAndGlyphs">8+</text>
<text x="431.0" y="972.0" textLength="134.6" lengthAdjust="spacingAndGlyphs">Vossenjacht</text>
<text x="431.0" y="997.5" textLength="25.0" lengthAdjust="spacingAndGlyphs">8+</text>
<text x="616.0" y="972.0" textLength="46.5" lengthAdjust="spacingAndGlyphs">Dart</text><text x="671.4" y="972.0" textLength="93.3" lengthAdjust="spacingAndGlyphs">toernooi</text>
<text x="616.0" y="997.5" textLength="37.8" lengthAdjust="spacingAndGlyphs">16+</text>
<text x="807.0" y="972.0" textLength="166.3" lengthAdjust="spacingAndGlyphs">Spokenwelkom</text>
<text x="1006.0" y="972.0" textLength="86.7" lengthAdjust="spacingAndGlyphs">Welkom</text>
<text x="1006.0" y="997.5" textLength="57.1" lengthAdjust="spacingAndGlyphs">Show</text>
<text x="1183.0" y="972.0" textLength="123.2" lengthAdjust="spacingAndGlyphs">Jeugdhonk</text><text x="1315.1" y="972.0" textLength="37.8" lengthAdjust="spacingAndGlyphs">12+</text>
<text x="1419.0" y="972.0" textLength="72.5" lengthAdjust="spacingAndGlyphs">BINGO</text>
<text x="1419.0" y="997.5" textLength="82.9" lengthAdjust="spacingAndGlyphs">AVOND</text>
<text x="248.0" y="1069.0" textLength="152.6" lengthAdjust="spacingAndGlyphs">Nachtvlinders</text>
<text x="248.0" y="1094.5" textLength="78.4" lengthAdjust="spacingAndGlyphs">zoeken</text>
<text x="616.0" y="1069.0" textLength="59.5" lengthAdjust="spacingAndGlyphs">Disco</text><text x="684.4" y="1069.0" textLength="70.4" lengthAdjust="spacingAndGlyphs">zwem-</text>
<text x="616.0" y="1094.5" textLength="47.5" lengthAdjust="spacingAndGlyphs">men</text>
<text x="807.0" y="1069.0" textLength="140.9" lengthAdjust="spacingAndGlyphs">Spokentocht</text>
<text x="1183.0" y="1069.0" textLength="59.5" lengthAdjust="spacingAndGlyphs">Disco</text><text x="1251.4" y="1069.0" textLength="58.1" lengthAdjust="spacingAndGlyphs">Night</text><text x="1318.4" y="1069.0" textLength="37.8" lengthAdjust="spacingAndGlyphs">16+</text>
<text x="1419.0" y="1069.0" textLength="29.7" lengthAdjust="spacingAndGlyphs">De</text><text x="1457.5" y="1069.0" textLength="82.5" lengthAdjust="spacingAndGlyphs">grootte</text>
<text x="1419.0" y="1094.5" textLength="73.9" lengthAdjust="spacingAndGlyphs">familie</text><text x="1501.8" y="1094.5" textLength="54.9" lengthAdjust="spacingAndGlyphs">show</text>
</g></svg>
</body></html>
